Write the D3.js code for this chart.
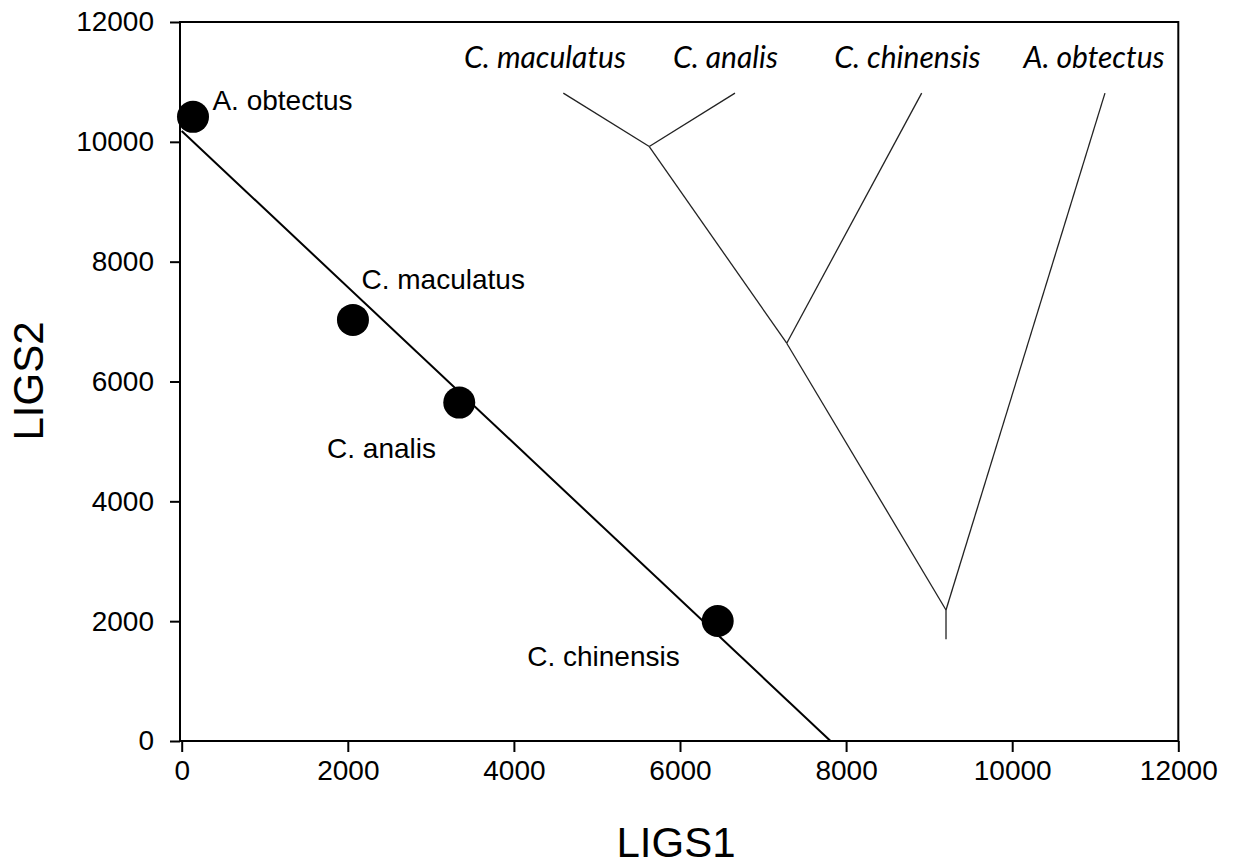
<!DOCTYPE html>
<html>
<head>
<meta charset="utf-8">
<script src="https://cdn.jsdelivr.net/npm/d3@7"></script>
<style>
  html, body { margin: 0; padding: 0; background: #fff; }
  svg { display: block; }
  text { font-family: "Liberation Sans", Arial, sans-serif; fill: #000; }
  .tree-label { font-family: Lato, "Open Sans", sans-serif; font-style: italic; }
</style>
</head>
<body>
<svg id="chart" width="1235" height="866"></svg>
<script>
// Species scores on the two LIGS axes
const species = ["A. obtectus", "C. maculatus", "C. analis", "C. chinensis"];
const ligs1 = [136, 2062, 3342, 6454];
const ligs2 = [10417, 7028, 5648, 2003];

// Label anchor positions for each species (data units)
const labelX = [370, 2165, 1750, 4160];
const labelY = [10530, 7550, 4730, 1260];

// Axis ticks
const xTicks = [0, 2000, 4000, 6000, 8000, 10000, 12000];
const yTicks = [0, 2000, 4000, 6000, 8000, 10000, 12000];

// Dendrogram nodes (LIGS1, LIGS2 positions) and edges
const treeNodes = {
  mac:   [4595, 10813],
  ana:   [6662, 10813],
  chi:   [8910, 10813],
  obt:   [11117, 10813],
  n1:    [5630, 9922],
  n2:    [7285, 6639],
  root:  [9203, 2187],
  stub:  [9203, 1698]
};
const treeEdges = [["mac","n1"],["ana","n1"],["n1","n2"],["chi","n2"],["n2","root"],["obt","root"],["root","stub"]];
const treeLabels = ["C. maculatus", "C. analis", "C. chinensis", "A. obtectus"];
const treeLabelX = [4375, 6547, 8739, 10985];
const treeLabelY = [11235, 11235, 11235, 11235];

const svg = d3.select("#chart");
const x = d3.scaleLinear().domain([0, 12000]).range([181.7, 1178.3]);
const y = d3.scaleLinear().domain([0, 12000]).range([741, 22]);

// Plot frame
svg.append("rect")
  .attr("x", 180).attr("y", y(12000))
  .attr("width", x(12000) - 180).attr("height", y(0) - y(12000))
  .attr("fill", "none").attr("stroke", "#000").attr("stroke-width", 2);

// Axes
const xAxis = svg.append("g").attr("transform", `translate(0,${y(0)})`)
  .call(d3.axisBottom(x).tickValues(xTicks).tickFormat(d3.format("d")).tickSize(11).tickSizeOuter(0).tickPadding(8));
const yAxis = svg.append("g").attr("transform", "translate(180,0)")
  .call(d3.axisLeft(y).tickValues(yTicks).tickFormat(d3.format("d")).tickSize(10).tickSizeOuter(0).tickPadding(16));
[xAxis, yAxis].forEach(g => {
  g.select(".domain").remove();
  g.selectAll(".tick line").attr("stroke", "#000").attr("stroke-width", 2);
  g.selectAll(".tick text").style("font-family", '"Liberation Sans", Arial, sans-serif')
    .style("font-size", "28px").attr("fill", "#000");
});

// Axis titles
svg.append("text").attr("x", 676).attr("y", 857).attr("text-anchor", "middle")
  .style("font-size", "42px").text("LIGS1");
svg.append("text").attr("transform", "translate(43,381) rotate(-90)").attr("text-anchor", "middle")
  .style("font-size", "42px").text("LIGS2");

// Least-squares fit through the species scores
const mx = d3.mean(ligs1), my = d3.mean(ligs2);
const sxy = d3.sum(ligs1, (v, i) => (v - mx) * (ligs2[i] - my));
const sxx = d3.sum(ligs1, v => (v - mx) * (v - mx));
const slope = sxy / sxx, intercept = my - slope * mx;
const xEnd = -intercept / slope;
svg.append("line")
  .attr("x1", x(0)).attr("y1", y(intercept))
  .attr("x2", x(xEnd)).attr("y2", y(0))
  .attr("stroke", "#000").attr("stroke-width", 2);

// Species points
svg.selectAll("circle.pt").data(species).join("circle")
  .attr("class", "pt")
  .attr("cx", (d, i) => x(ligs1[i])).attr("cy", (d, i) => y(ligs2[i]))
  .attr("r", 16).attr("fill", "#000");

svg.selectAll("text.pt-label").data(species).join("text")
  .attr("class", "pt-label")
  .attr("x", (d, i) => x(labelX[i])).attr("y", (d, i) => y(labelY[i]))
  .style("font-size", "28px").text(d => d);

// Dendrogram
svg.selectAll("line.edge").data(treeEdges).join("line")
  .attr("class", "edge")
  .attr("x1", d => x(treeNodes[d[0]][0])).attr("y1", d => y(treeNodes[d[0]][1]))
  .attr("x2", d => x(treeNodes[d[1]][0])).attr("y2", d => y(treeNodes[d[1]][1]))
  .attr("stroke", "#222").attr("stroke-width", 1.3);

svg.selectAll("text.tree-label").data(treeLabels).join("text")
  .attr("class", "tree-label")
  .attr("x", (d, i) => x(treeLabelX[i])).attr("y", (d, i) => y(treeLabelY[i]))
  .attr("text-anchor", "middle")
  .style("font-size", "30px").text(d => d);
</script>
</body>
</html>
